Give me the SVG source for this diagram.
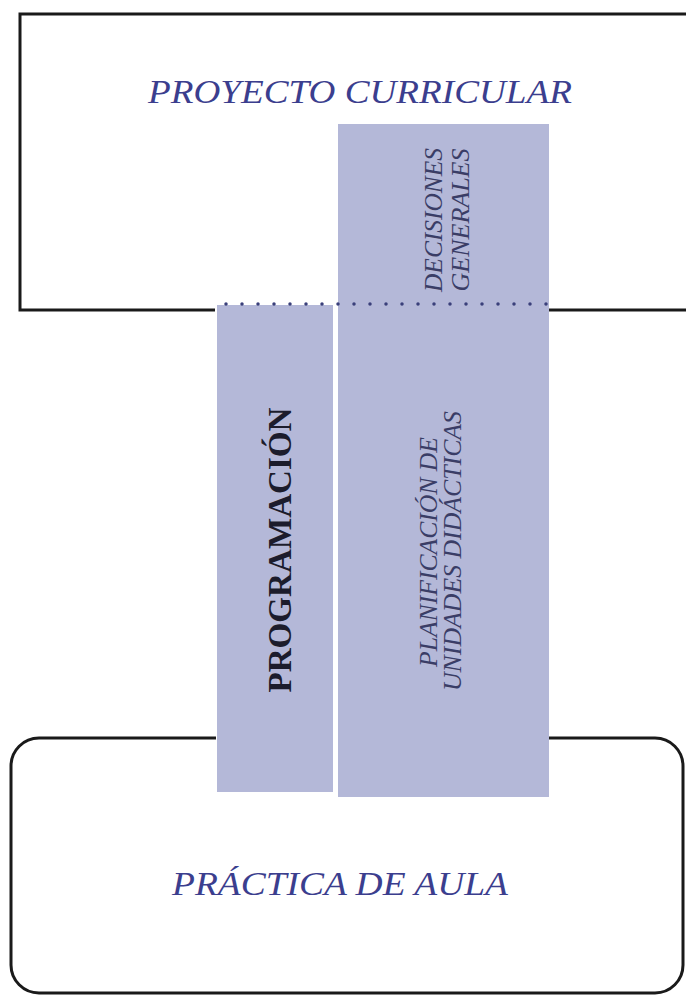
<svg xmlns="http://www.w3.org/2000/svg" width="686" height="998" viewBox="0 0 686 998">
<style>
.frame{fill:none;stroke:#1a1a1a;stroke-width:3}
.band{fill:#b4b8d8}
.title{font-family:"Liberation Serif",serif;font-style:italic;font-size:34px;fill:#3b3e8e}
.vert{font-family:"Liberation Serif",serif;font-style:italic;font-size:25px;fill:#3a3d66}
.prog{font-family:"Liberation Serif",serif;font-weight:bold;font-size:33px;fill:#1c1c2c}
.dots{fill:none;stroke:#3a3f7a;stroke-width:3.5;stroke-linecap:round;stroke-dasharray:0 16}
</style>
<rect width="686" height="998" fill="#ffffff"/>
<g id="proyecto-curricular">
<path class="frame" d="M686,14 H20 V310 H215"/>
<path class="frame" d="M547,310 H686"/>
<text class="title" x="360" y="103" text-anchor="middle" textLength="424" lengthAdjust="spacingAndGlyphs">PROYECTO CURRICULAR</text>
</g>
<g id="practica-de-aula">
<path class="frame" d="M216,738 H39 A28,28 0 0 0 11,766 V965 A28,28 0 0 0 39,993 H655 A28,28 0 0 0 683,965 V766 A28,28 0 0 0 655,738 H546"/>
<text class="title" x="340" y="895" text-anchor="middle" textLength="336" lengthAdjust="spacingAndGlyphs">PRÁCTICA DE AULA</text>
</g>
<g id="programacion">
<rect class="band" x="217" y="305" width="116" height="487"/>
<text class="prog" transform="translate(291,550) rotate(-90)" text-anchor="middle" textLength="285" lengthAdjust="spacingAndGlyphs">PROGRAMACIÓN</text>
</g>
<g id="decisiones-planificacion">
<rect class="band" x="338" y="124" width="211" height="673"/>
<text class="vert" transform="translate(442,220) rotate(-90)" text-anchor="middle" textLength="144" lengthAdjust="spacingAndGlyphs">DECISIONES</text>
<text class="vert" transform="translate(469,220) rotate(-90)" text-anchor="middle" textLength="143" lengthAdjust="spacingAndGlyphs">GENERALES</text>
<text class="vert" transform="translate(437,552) rotate(-90)" text-anchor="middle" textLength="230" lengthAdjust="spacingAndGlyphs">PLANIFICACIÓN DE</text>
<text class="vert" transform="translate(461,551) rotate(-90)" text-anchor="middle" textLength="280" lengthAdjust="spacingAndGlyphs">UNIDADES DIDÁCTICAS</text>
</g>
<g id="connectors">
<path class="dots" d="M226,304 H547"/>
</g>
</svg>
